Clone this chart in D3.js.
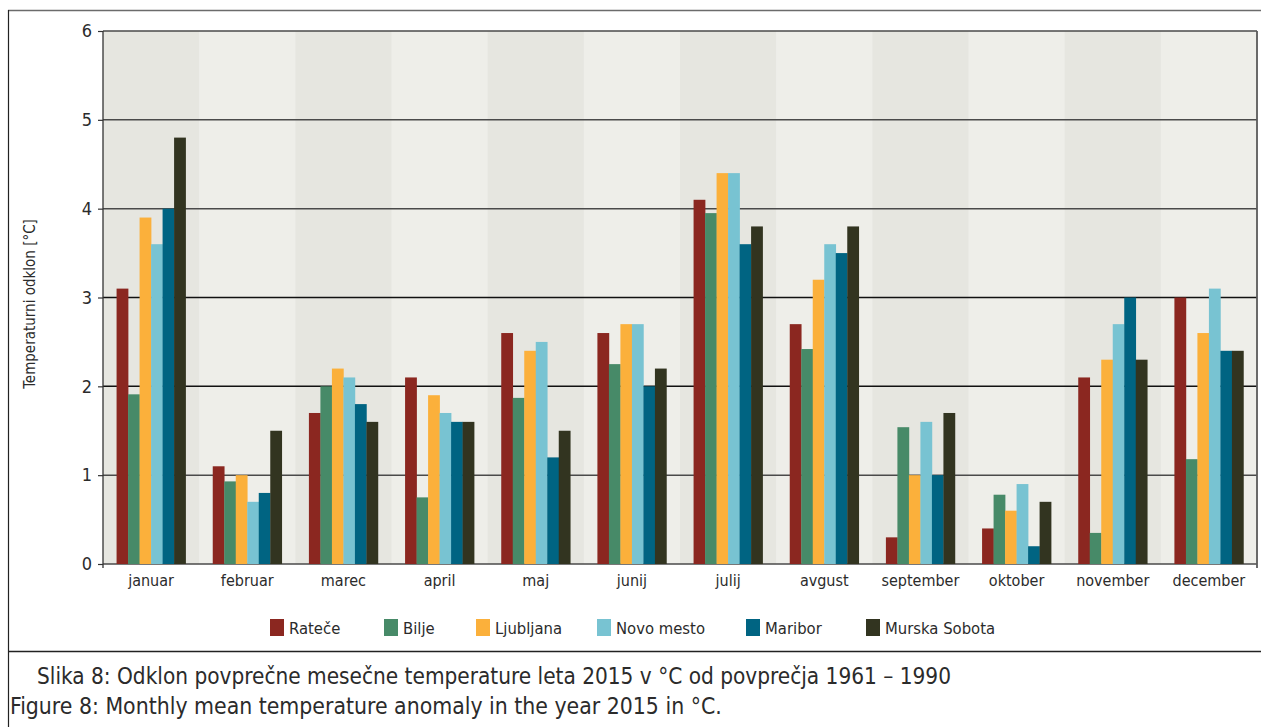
<!DOCTYPE html>
<html>
<head>
<meta charset="utf-8">
<script src="https://cdn.jsdelivr.net/npm/d3@7"></script>
<style>
  html, body { margin: 0; padding: 0; background: #ffffff; }
  svg { display: block; }
</style>
</head>
<body>
<div id="chart"></div>
<script>
// ── Data ──
var MONTHS = ['januar', 'februar', 'marec', 'april', 'maj', 'junij',
  'julij', 'avgust', 'september', 'oktober', 'november', 'december'];
var STATIONS = ['Rateče', 'Bilje', 'Ljubljana', 'Novo mesto', 'Maribor', 'Murska Sobota'];
var RATECE = [3.1, 1.1, 1.7, 2.1, 2.6, 2.6, 4.1, 2.7, 0.3, 0.4, 2.1, 3.0];
var BILJE = [1.91, 0.93, 2.0, 0.75, 1.87, 2.25, 3.95, 2.42, 1.54, 0.78, 0.35, 1.18];
var LJUBLJANA = [3.9, 1.0, 2.2, 1.9, 2.4, 2.7, 4.4, 3.2, 1.0, 0.6, 2.3, 2.6];
var NOVO_MESTO = [3.6, 0.7, 2.1, 1.7, 2.5, 2.7, 4.4, 3.6, 1.6, 0.9, 2.7, 3.1];
var MARIBOR = [4.0, 0.8, 1.8, 1.6, 1.2, 2.0, 3.6, 3.5, 1.0, 0.2, 3.0, 2.4];
var MURSKA_SOBOTA = [4.8, 1.5, 1.6, 1.6, 1.5, 2.2, 3.8, 3.8, 1.7, 0.7, 2.3, 2.4];
var Y_TICKS = [0, 1, 2, 3, 4, 5, 6];
var Y_TITLE = 'Temperaturni odklon [°C]';
var CAPTION_SL = 'Slika 8: Odklon povprečne mesečne temperature leta 2015 v °C od povprečja 1961 – 1990';
var CAPTION_EN = 'Figure 8: Monthly mean temperature anomaly in the year 2015 in °C.';

var SERIES = [RATECE, BILJE, LJUBLJANA, NOVO_MESTO, MARIBOR, MURSKA_SOBOTA];
var COLORS = ['#8b2720', '#478a68', '#fbb03b', '#78c3d2', '#006482', '#323420'];

// ── Layout ──
var W = 1261, H = 727;
var PLOT = { left: 103, right: 1257, top: 31, bottom: 564 };
var FONT = '"DejaVu Sans Condensed", "Liberation Sans Narrow", sans-serif';
var TEXT_COLOR = '#2b2b2b';
var BAND_DARK = '#e6e6e0';
var BAND_LIGHT = '#eeeee9';
var GRID_COLOR = '#4a4a4a';

var svg = d3.select('#chart').append('svg')
  .attr('width', W)
  .attr('height', H);

// outer frame
svg.append('line')
  .attr('x1', 8).attr('x2', W).attr('y1', 10.5).attr('y2', 10.5)
  .attr('stroke', '#6b6b6b').attr('stroke-width', 1.5);
svg.append('line')
  .attr('x1', 8.5).attr('x2', 8.5).attr('y1', 10).attr('y2', H)
  .attr('stroke', '#222').attr('stroke-width', 1.2);
svg.append('line')
  .attr('x1', 8).attr('x2', W).attr('y1', 651.5).attr('y2', 651.5)
  .attr('stroke', '#222').attr('stroke-width', 1.5);

// ── Scales ──
var x0 = d3.scaleBand()
  .domain(MONTHS)
  .range([PLOT.left, PLOT.right])
  .paddingInner(0)
  .paddingOuter(0);

// bars fill roughly the middle 72% of each month band
var x1 = d3.scaleBand()
  .domain(STATIONS)
  .range([0, x0.bandwidth()])
  .paddingInner(0)
  .paddingOuter(1.18);

var y = d3.scaleLinear()
  .domain([0, 6])
  .range([PLOT.bottom, PLOT.top]);

// alternating month bands
svg.append('g').selectAll('rect')
  .data(MONTHS)
  .join('rect')
  .attr('x', function (d) { return x0(d); })
  .attr('y', PLOT.top)
  .attr('width', x0.bandwidth() + 0.5)
  .attr('height', PLOT.bottom - PLOT.top)
  .attr('fill', function (d, i) { return i % 2 === 0 ? BAND_DARK : BAND_LIGHT; });

// grid lines
svg.append('g').selectAll('line')
  .data(Y_TICKS)
  .join('line')
  .attr('x1', PLOT.left)
  .attr('x2', PLOT.right)
  .attr('y1', function (d) { return y(d); })
  .attr('y2', function (d) { return y(d); })
  .attr('stroke', function (d) { return d === 2 || d === 3 ? '#111' : GRID_COLOR; })
  .attr('stroke-width', 1.5);

// ── Bars ──
var groups = svg.append('g').selectAll('g')
  .data(MONTHS)
  .join('g')
  .attr('transform', function (d) { return 'translate(' + x0(d) + ',0)'; });

groups.selectAll('rect')
  .data(function (m, mi) {
    return SERIES.map(function (s, si) {
      return { station: STATIONS[si], value: s[mi], color: COLORS[si] };
    });
  })
  .join('rect')
  .attr('x', function (d) { return x1(d.station); })
  .attr('y', function (d) { return y(d.value); })
  .attr('width', x1.bandwidth() + 0.3)
  .attr('height', function (d) { return y(0) - y(d.value); })
  .attr('fill', function (d) { return d.color; });

// ── Axes ──
var yAxis = d3.axisLeft(y)
  .tickValues(Y_TICKS)
  .tickSize(5)
  .tickPadding(6)
  .tickFormat(d3.format('d'));

var yG = svg.append('g')
  .attr('transform', 'translate(' + PLOT.left + ',0)')
  .call(yAxis);
yG.select('.domain').remove();
yG.selectAll('.tick line').attr('stroke', '#333').attr('stroke-width', 1.2);
yG.selectAll('.tick text')
  .attr('fill', TEXT_COLOR)
  .attr('font-size', '18px')
  .attr('font-family', FONT);

// y axis line (runs a little below zero)
svg.append('line')
  .attr('x1', PLOT.left).attr('x2', PLOT.left)
  .attr('y1', PLOT.top).attr('y2', PLOT.bottom + 4)
  .attr('stroke', '#333').attr('stroke-width', 1.3);
// right border of plot
svg.append('line')
  .attr('x1', PLOT.right).attr('x2', PLOT.right)
  .attr('y1', PLOT.top).attr('y2', PLOT.bottom + 4)
  .attr('stroke', '#5a5a5a').attr('stroke-width', 1.8);

var xAxis = d3.axisBottom(x0).tickSize(0).tickPadding(11);
var xG = svg.append('g')
  .attr('transform', 'translate(0,' + PLOT.bottom + ')')
  .call(xAxis);
xG.select('.domain').remove();
xG.selectAll('.tick text')
  .attr('fill', TEXT_COLOR)
  .attr('font-size', '16px')
  .attr('font-family', FONT);

// y title
svg.append('text')
  .attr('transform', 'translate(35,' + 304 + ') rotate(-90)')
  .attr('text-anchor', 'middle')
  .attr('fill', TEXT_COLOR)
  .attr('font-size', '15px')
  .attr('font-family', FONT)
  .text(Y_TITLE);

// ── Legend ──
var LEGEND_X = [270, 384, 476, 597, 746, 866];
var legend = svg.append('g').selectAll('g')
  .data(STATIONS)
  .join('g')
  .attr('transform', function (d, i) { return 'translate(' + LEGEND_X[i] + ',619)'; });
legend.append('rect')
  .attr('width', 14).attr('height', 17)
  .attr('fill', function (d, i) { return COLORS[i]; });
legend.append('text')
  .attr('x', 19).attr('y', 14.5)
  .attr('fill', TEXT_COLOR)
  .attr('font-size', '16.5px')
  .attr('font-family', FONT)
  .text(function (d) { return d; });

// ── Captions ──
svg.append('text')
  .attr('x', 37).attr('y', 684)
  .attr('fill', TEXT_COLOR)
  .attr('font-size', '22.4px')
  .attr('font-family', FONT)
  .text(CAPTION_SL);
svg.append('text')
  .attr('x', 10).attr('y', 714)
  .attr('fill', TEXT_COLOR)
  .attr('font-size', '22.8px')
  .attr('font-family', FONT)
  .text(CAPTION_EN);
</script>
</body>
</html>
